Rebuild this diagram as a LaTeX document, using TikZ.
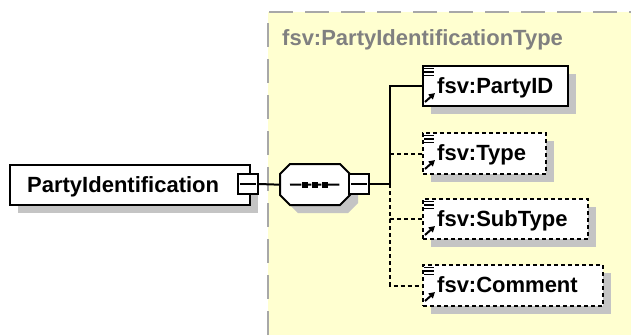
\documentclass[tikz,border=0pt]{standalone}
\usepackage{fontspec}
\setmainfont{Liberation Sans}
\usetikzlibrary{shadows,arrows.meta}
\definecolor{bgyellow}{RGB}{255,255,208}
\definecolor{bordergray}{RGB}{168,168,168}
\definecolor{titlegray}{RGB}{128,128,128}
\definecolor{shadowgray}{RGB}{196,196,196}
\begin{document}
\begin{tikzpicture}[x=1pt,y=-1pt,
  conn/.style={line width=2pt, black},
  optconn/.style={line width=2pt, black, dash pattern=on 4pt off 3pt},
  shade8/.style={drop shadow={shadow xshift=8pt, shadow yshift=-8pt, fill=shadowgray, opacity=1}},
  elembox/.style={draw=black, line width=2pt, fill=white, rectangle, inner sep=0pt,
    anchor=north west, minimum height=40pt, shade8},
  optbox/.style={elembox, dash pattern=on 4pt off 3pt},
  minusbox/.style={draw=black, line width=2pt, fill=white, rectangle, inner sep=0pt,
    minimum width=20pt, minimum height=20pt, anchor=center},
  seqarea/.style={rectangle, inner sep=0pt, minimum width=69pt, minimum height=41pt, anchor=north west},
  octo/.style={draw=black, line width=2pt, fill=white},
  octoshadow/.style={fill=shadowgray},
  lbl/.style={font=\fontsize{22pt}{26pt}\selectfont\bfseries, anchor=base west, inner sep=0pt},
  ttl/.style={lbl, text=titlegray},
  dot/.style={fill=black, minimum size=6pt, inner sep=0pt, rectangle},
  icons/.pic={
    \draw[line width=1.5pt] (2,3.5) -- (12,3.5) (2,7) -- (12,7) (2,10.5) -- (12,10.5);
    \draw[line width=2pt, -{Triangle[length=6pt,width=6.5pt]}] (3,37) -- (13,28);
  }
]
\useasboundingbox (0,0) rectangle (631,335);
% type background
\fill[bgyellow] (268,12) rectangle (631,335);
\draw[bordergray, line width=2pt, dash pattern=on 24pt off 12pt] (268,335) -- (268,12) -- (631,12);
\node[ttl] (title) at (282,45) {fsv:PartyIdentificationType};

% root element
\node[elembox, minimum width=240pt] (root) at (9,164) {};
\node[lbl] (rootlbl) at (27,192) {PartyIdentification};
\node[minusbox] (rootminus) at (248,184) {};
\draw[conn] ([xshift=3pt]rootminus.west) -- ([xshift=-3pt]rootminus.east);

% sequence compositor
\fill[octoshadow] (298,172) -- (348,172) -- (358,182) -- (358,203) -- (348,213) -- (298,213) -- (288,203) -- (288,182) -- cycle;
\draw[octo] (290,164) -- (340,164) -- (350,174) -- (350,195) -- (340,205) -- (290,205) -- (280,195) -- (280,174) -- cycle;
\node[seqarea] (seq) at (280,164) {};
\node[dot] (d1) at (304.5,184.5) {};
\node[dot] (d2) at (314.5,184.5) {};
\node[dot] (d3) at (324.5,184.5) {};
\draw[conn] ([xshift=10pt]seq.west) -- (d1) -- (d2) -- (d3) -- ([xshift=-10pt]seq.east);
\node[minusbox] (seqminus) at (359,184) {};
\draw[conn] ([xshift=3pt]seqminus.west) -- ([xshift=-3pt]seqminus.east);

% child elements
\node[elembox, minimum width=145pt] (pid) at (422,65) {};
\pic at (pid.north west) {icons};
\node[lbl] (pidlbl) at (437,93) {fsv:PartyID};

\node[optbox, minimum width=123pt, minimum height=41pt] (type) at (422,132) {};
\pic at (type.north west) {icons};
\node[lbl] (typelbl) at (437,160) {fsv:Type};

\node[optbox, minimum width=165pt] (subtype) at (422,198) {};
\pic at (subtype.north west) {icons};
\node[lbl] (subtypelbl) at (437,226) {fsv:SubType};

\node[optbox, minimum width=180pt, minimum height=41pt] (comment) at (422,264) {};
\pic at (comment.north west) {icons};
\node[lbl] (commentlbl) at (437,292) {fsv:Comment};

% connectors
\coordinate (junc) at (390,184);
\draw[conn] (rootminus.east) -- (seq.west);
\draw[conn] (seqminus.east) -- (junc);
\draw[conn] (junc) |- (pid.west);
\draw[optconn] (junc |- type.west) -- (type.west);
\draw[optconn] (junc) |- (subtype.west);
\draw[optconn] (junc) |- (comment.west);
\end{tikzpicture}
\end{document}
